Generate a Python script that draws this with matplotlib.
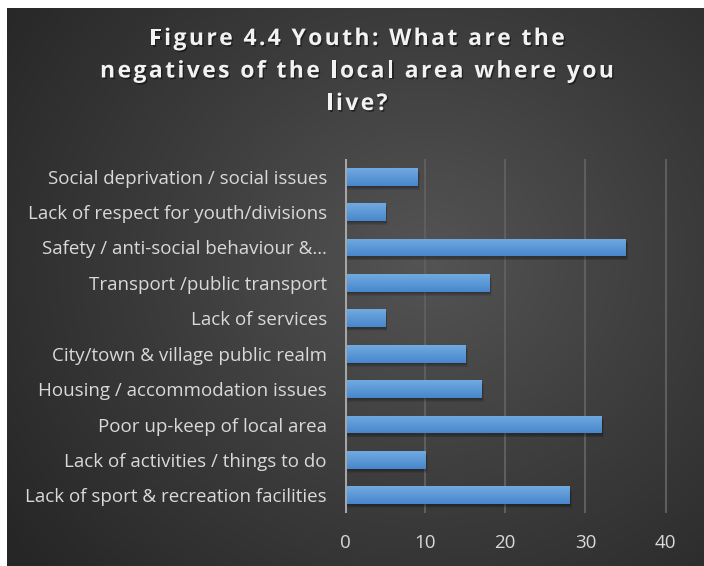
import numpy as np
import matplotlib
matplotlib.use("Agg")
import matplotlib.pyplot as plt
import matplotlib.patheffects as pe
from matplotlib.colors import LinearSegmentedColormap

categories = [
    "Lack of sport & recreation facilities",
    "Lack of activities / things to do",
    "Poor up-keep of local area",
    "Housing / accommodation issues",
    "City/town & village public realm",
    "Lack of services",
    "Transport /public transport",
    "Safety / anti-social behaviour &…",
    "Lack of respect for youth/divisions",
    "Social deprivation / social issues",
]
counts = [28, 10, 32, 17, 15, 5, 18, 35, 5, 9]
xticks = [0, 10, 20, 30, 40]

title_lines = [
    "Figure 4.4 Youth: What are the",
    "negatives of the local area where you",
    "live?",
]

W, H = 704, 566
fig = plt.figure(figsize=(W / 100, H / 100), dpi=100)
fig.patch.set_facecolor("white")

# dark radial background panel
bg = fig.add_axes([7 / W, 0, 697 / W, 1 - 8 / H])
bg.set_axis_off()
yy, xx = np.mgrid[0:1:300j, 0:1:400j]
r = np.sqrt(((xx - 0.6) / 0.75) ** 2 + ((yy - 0.45) / 0.85) ** 2)
bgmap = LinearSegmentedColormap.from_list("bg", ["#545454", "#3c3c3c", "#262626"])
bg.imshow(np.clip(r, 0, 1), cmap=bgmap, aspect="auto", extent=[0, 1, 0, 1], vmin=0, vmax=1)
bg.set_xlim(0, 1)
bg.set_ylim(0, 1)

# spaced-out bold title, laid out one character at a time
renderer = fig.canvas.get_renderer()
tracking = 2.4
title_kw = dict(color="#f2f2f2", fontsize=16.5, fontweight="bold", family="Open Sans",
                va="center", ha="left",
                path_effects=[pe.withSimplePatchShadow(offset=(1, -1.2), shadow_rgbFace="black", alpha=0.45)])
for i, line in enumerate(title_lines):
    yc = 1 - (39 + 32.5 * i) / H
    widths = []
    for ch in line:
        t = fig.text(0, 0, ch, **title_kw)
        widths.append(t.get_window_extent(renderer).width)
        t.remove()
    total = sum(widths) + tracking * (len(line) - 1)
    x = 357 - total / 2
    for ch, w in zip(line, widths):
        fig.text(x / W, yc, ch, **title_kw)
        x += w + tracking

ax = fig.add_axes([345 / W, 1 - 513 / H, (668 - 345) / W, (513 - 159) / H])
ax.patch.set_alpha(0)
y = np.arange(len(categories))

# soft drop shadow under each bar
for k in range(4):
    ax.barh(y - 0.04 - 0.025 * k, counts, height=0.5, left=0.15 + 0.05 * k,
            color="black", alpha=0.09, zorder=2, linewidth=0)
bars = ax.barh(y, counts, height=0.5, color="#5b9bd5", zorder=3, linewidth=0)

# vertical gradient on the bars
grad = LinearSegmentedColormap.from_list("bar", ["#4887cd", "#71aae0"])
for b in bars:
    x0, y0 = b.get_x(), b.get_y()
    w, h = b.get_width(), b.get_height()
    im = ax.imshow(np.linspace(0, 1, 50).reshape(-1, 1), cmap=grad, aspect="auto",
                   extent=[x0, x0 + w, y0, y0 + h], origin="lower", zorder=4)
    im.set_clip_path(b)

ax.set_xlim(0, 40.3)
ax.set_ylim(-0.5, len(categories) - 0.5)
ax.set_xticks(xticks)
ax.set_yticks(y)
ax.set_yticklabels(categories)
ax.grid(axis="x", color="#5e5e5e", linewidth=1.5, zorder=1)
ax.axvline(0, color="#a6a6a6", linewidth=2.2, zorder=5)
for s in ax.spines.values():
    s.set_visible(False)
ax.tick_params(axis="both", length=0, colors="#d9d9d9", labelsize=13.5)
ax.tick_params(axis="x", pad=15)
ax.tick_params(axis="y", pad=13)
for lab in ax.get_xticklabels() + ax.get_yticklabels():
    lab.set_family("Open Sans")

fig.savefig("out.png", dpi=100, facecolor=fig.get_facecolor())
